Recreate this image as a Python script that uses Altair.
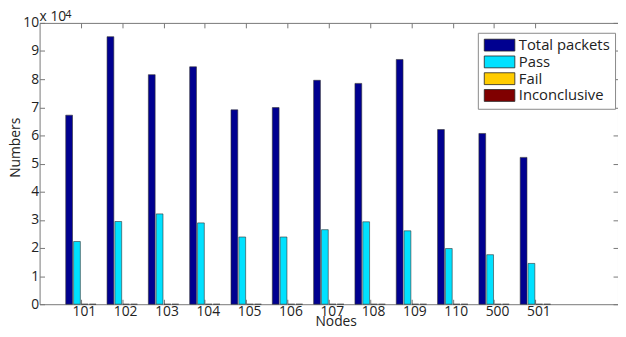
import json
import altair as alt
import pandas as pd

# ---- data ----
nodes = ["101", "102", "103", "104", "105", "106", "107", "108", "109", "110", "500", "501"]
series = ["Total packets", "Pass", "Fail", "Inconclusive"]
total_packets = [67200, 95100, 81600, 84400, 69100, 69900, 79600, 78500, 87000, 62100, 60700, 52200]
pass_counts = [22300, 29400, 32100, 28900, 23900, 23900, 26500, 29300, 26100, 19800, 17600, 14500]
fail_counts = [0] * 12
inconclusive_counts = [0] * 12
colors = ["#000090", "#00E1FF", "#FFCC00", "#800000"]
y_ticks = [0, 10000, 20000, 30000, 40000, 50000, 60000, 70000, 80000, 90000, 100000]
exponent_text = ["x 10"]
exponent_power = ["4"]

values_by_series = [total_packets, pass_counts, fail_counts, inconclusive_counts]
rows = []
for s_i, (name, vals) in enumerate(zip(series, values_by_series)):
    for n_i, (node, v) in enumerate(zip(nodes, vals)):
        rows.append({"node": node, "idx": n_i + 1, "series": name, "sidx": s_i, "count": v})
df = pd.DataFrame(rows)

FONT = "Open Sans"
AX = "#777777"
TXT = "#222222"
x_ticks = list(range(1, len(nodes) + 1))
label_expr = json.dumps(nodes) + "[datum.value - 1]"

x_scale = alt.Scale(domain=[0, 14], nice=False, zero=False, padding=0)
y_scale = alt.Scale(domain=[0, 100000], nice=False, padding=0)

bars = (
    alt.Chart(df)
    .transform_calculate(
        xc="datum.idx + (datum.sidx - 1.5) * 0.19",
    )
    .transform_calculate(x1="datum.xc - 0.082", x2="datum.xc + 0.082")
    .mark_bar(stroke="#333333", strokeWidth=0.6, orient="vertical")
    .encode(
        x=alt.X(
            "x1:Q",
            scale=x_scale,
            axis=alt.Axis(
                orient="bottom", values=x_ticks, labelExpr=label_expr, title="Nodes",
                offset=-5, tickSize=5, domain=False, grid=False,
                labelPadding=11, labelBaseline="alphabetic", labelFontSize=14, labelColor=TXT,
                labelFont=FONT, labelOffset=3, tickColor=AX, labelFlush=False,
                titleFontSize=14, titleFont=FONT, titleFontWeight="normal", titleColor=TXT,
                titleX=300, titleY=27, titleBaseline="alphabetic",
            ),
        ),
        x2="x2:Q",
        y=alt.Y(
            "count:Q",
            scale=y_scale,
            axis=alt.Axis(
                orient="left", values=y_ticks, labelExpr="datum.value / 10000", title="Numbers",
                offset=-5, tickSize=5, domain=False, grid=False,
                labelPadding=1, labelFontSize=14, labelColor=TXT, labelFont=FONT,
                tickColor=AX, labelFlush=False, labelOverlap=False,
                titleFontSize=14, titleFont=FONT, titleFontWeight="normal", titleColor=TXT,
                titleAngle=270, titleX=-25, titleY=126, titleBaseline="alphabetic", titleAlign="center",
            ),
        ),
        y2=alt.datum(0),
        color=alt.Color(
            "series:N",
            scale=alt.Scale(domain=series, range=colors),
            sort=series,
            legend=alt.Legend(
                title=None, orient="none", legendX=444, legendY=10,
                symbolType="M-2.58,-1H2.58V1H-2.58Z", symbolSize=144,
                symbolStrokeColor="#222222", symbolStrokeWidth=0.8, symbolOpacity=1,
                symbolOffset=9.5,
                labelFontSize=15, labelFont=FONT, labelColor=TXT, labelOffset=12, labelLimit=300,
                rowPadding=0, padding=5, strokeColor="#888888", fillColor="white",
            ),
        ),
    )
)

frame = (
    alt.Chart(df)
    .mark_point(opacity=0)
    .encode(
        x=alt.X(
            "idx:Q", scale=x_scale,
            axis=alt.Axis(orient="top", values=x_ticks, labels=False, title=None, offset=-5,
                          tickSize=5, domain=False, grid=False, tickColor=AX),
        ),
        y=alt.Y(
            "count:Q", scale=y_scale,
            axis=alt.Axis(orient="right", values=y_ticks, labels=False, title=None, offset=-5,
                          tickSize=5, domain=False, grid=False, tickColor=AX),
        ),
    )
)

exp_base = (
    alt.Chart(pd.DataFrame({"t": exponent_text}))
    .mark_text(align="left", baseline="alphabetic", fontSize=14, font=FONT, color=TXT)
    .encode(x=alt.value(0), y=alt.value(-2), text="t:N")
)
exp_pow = (
    alt.Chart(pd.DataFrame({"t": exponent_power}))
    .mark_text(align="left", baseline="alphabetic", fontSize=11, font=FONT, color=TXT)
    .encode(x=alt.value(26), y=alt.value(-4.5), text="t:N")
)

chart = (
    alt.layer(bars, frame, exp_base, exp_pow)
    .resolve_axis(x="independent", y="independent")
    .properties(
        width=586, height=285,
        padding={"left": 32, "top": 13, "right": 0, "bottom": 23},
        autosize=alt.AutoSizeParams(type="none"),
        background="white",
    )
    .configure_view(stroke=AX, strokeWidth=1)
)

chart.save("out.html", embed_options={"renderer": "svg", "actions": False})
